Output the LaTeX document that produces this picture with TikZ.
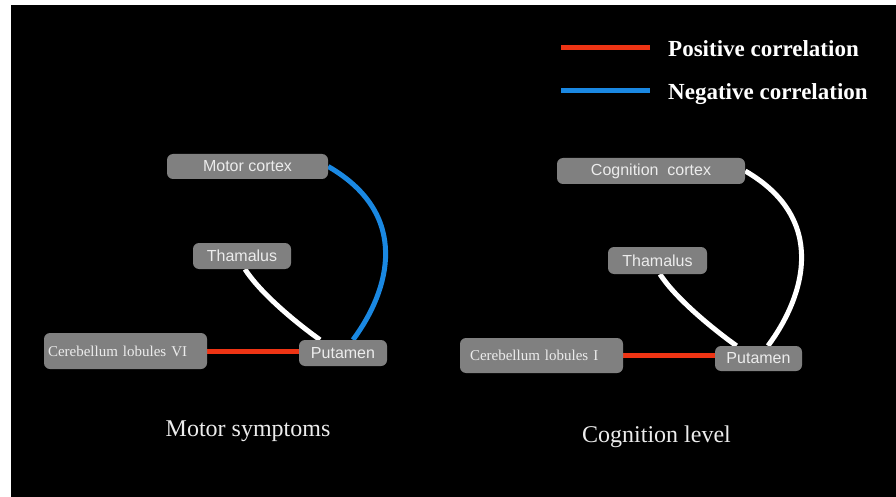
\documentclass[tikz,border=0pt]{standalone}
\usepackage{fontspec}
\setmainfont{Liberation Serif}
\setsansfont{Liberation Sans}
\definecolor{boxgrau}{RGB}{128,128,128}
\definecolor{posrot}{RGB}{238,52,20}
\definecolor{negblau}{RGB}{26,136,226}
\definecolor{hellgrau}{RGB}{236,236,236}
\pgfdeclarelayer{hinten}
\pgfsetlayers{hinten,main}
\begin{document}
\begin{tikzpicture}[x=1pt,y=-1pt,
  region/.style={fill=boxgrau,rounded corners=6pt,text=hellgrau,inner sep=0pt,font=\sffamily\fontsize{16}{18}\selectfont},
  kleinhirn/.style={region,font=\rmfamily\fontsize{15}{17}\selectfont,align=left},
  verbindung/.style={line width=5pt},
  legende/.style={text=white,inner sep=0pt,font=\bfseries\fontsize{23}{27}\selectfont},
  titel/.style={text=hellgrau,inner sep=0pt,font=\fontsize{24}{28}\selectfont}]
  \useasboundingbox (0,0) rectangle (896,497);
  % linke Seite: Motorik
  \node[region,minimum width=161pt,minimum height=25pt] (mc) at (247.5,166.5) {Motor cortex};
  \node[region,minimum width=98pt,minimum height=26pt] (th) at (242,256) {Thamalus};
  \node[kleinhirn,inner xsep=4pt,text width=155pt,minimum height=36pt] (cb) at (125.5,351) {Cerebellum lobules VI};
  \node[region,minimum width=88pt,minimum height=26pt] (pu) at (343,353) {Putamen};
  \node[titel,anchor=base west] (motor) at (165.5,436.7) {Motor symptoms};
  % rechte Seite: Kognition
  \node[region,minimum width=188pt,minimum height=26pt] (cc) at (651,171) {Cognition\ \ cortex};
  \node[region,minimum width=99pt,minimum height=27pt] (th2) at (657.5,260.5) {Thamalus};
  \node[kleinhirn,inner xsep=10pt,text width=143pt,minimum height=35pt] (cb2) at (541.5,355.5) {Cerebellum lobules I};
  \node[region,minimum width=87pt,minimum height=25pt] (pu2) at (758.5,358.5) {Putamen};
  \node[titel,anchor=base east] (kogn) at (731,442.3) {Cognition level};
  % Legende
  \foreach \farbe/\name/\y in {posrot/Positive/48,negblau/Negative/91} {
    \coordinate (\name A) at (561,\y);
    \coordinate (\name B) at (650,\y);
    \draw[verbindung,\farbe] (\name A) -- (\name B);
    \node[legende,anchor=base west] (\name T) at (668,\y+8.5) {\name\ correlation};
  }
  % Hintergrund und Verbindungen unter den Boxen
  \begin{pgfonlayer}{hinten}
    \fill[white] (0,0) rectangle (896,497);
    \fill[black] (11,5) rectangle (896,497);
    \draw[verbindung,posrot] (cb.east) -- (cb.east -| pu.west);
    \draw[verbindung,white] ([xshift=3pt]th.south) .. controls +(14,22) and +(-28,-20) .. ([xshift=-23pt]pu.north);
    \draw[verbindung,negblau] (mc.east) .. controls +(83,48) and +(37,-50) .. ([xshift=10pt]pu.north);
    \draw[verbindung,posrot] (cb2.east) -- (cb2.east -| pu2.west);
    \draw[verbindung,white] ([xshift=2.5pt]th2.south) .. controls +(14,22) and +(-28,-20) .. ([xshift=-22pt]pu2.north);
    \draw[verbindung,white] (cc.east) .. controls +(83,48) and +(37,-50) .. ([xshift=9.5pt]pu2.north);
  \end{pgfonlayer}
\end{tikzpicture}
\end{document}
